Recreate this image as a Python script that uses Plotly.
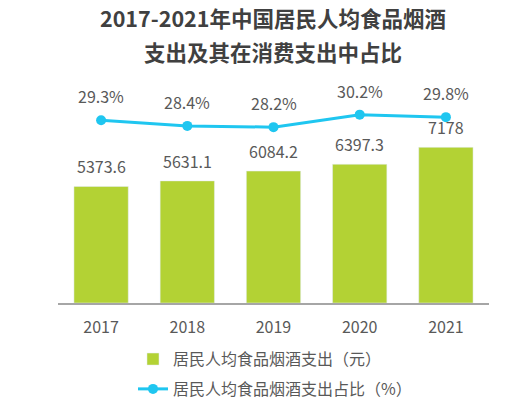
import plotly.graph_objects as go

# datos
years = ['2017', '2018', '2019', '2020', '2021']
gasto = [5373.6, 5631.1, 6084.2, 6397.3, 7178]
gasto_txt = ['5373.6', '5631.1', '6084.2', '6397.3', '7178']
ratio = [29.3, 28.4, 28.2, 30.2, 29.8]
ratio_txt = ['29.3%', '28.4%', '28.2%', '30.2%', '29.8%']
titulo = ['2017-2021年中国居民人均食品烟酒', '支出及其在消费支出中占比']

FONT = 'Noto Sans CJK SC'
GRIS = '#595959'
VERDE = '#b3d234'
CIAN = '#1fc6f0'

fig = go.Figure()

fig.add_trace(go.Bar(
    x=years, y=gasto,
    name='居民人均食品烟酒支出（元）',
    marker=dict(color=VERDE),
    width=0.63,
    legend='legend',
))

fig.add_trace(go.Scatter(
    x=years, y=ratio,
    name='居民人均食品烟酒支出占比（%）',
    mode='lines+markers',
    line=dict(color=CIAN, width=3),
    marker=dict(color=CIAN, size=10),
    yaxis='y2',
    legend='legend2',
))

# etiquetas (en eje de categorias se usa el indice)
for i, (y, t) in enumerate(zip(gasto, gasto_txt)):
    fig.add_annotation(x=i, y=y, text=t, showarrow=False, yshift=20,
                       font=dict(size=16, color=GRIS, family=FONT))
for i, (y, t) in enumerate(zip(ratio, ratio_txt)):
    fig.add_annotation(x=i, y=y, yref='y2', text=t, showarrow=False, yshift=24,
                       font=dict(size=16, color=GRIS, family=FONT))

# titulo en dos lineas
for t, yy in zip(titulo, [1.227, 1.08]):
    fig.add_annotation(x=0.499, y=yy, xref='paper', yref='paper', text='<b>' + t + '</b>',
                       showarrow=False, xanchor='center', yanchor='middle',
                       font=dict(size=21.5, color='#404040', family=FONT))

leg_font = dict(size=16, color=GRIS, family=FONT)

fig.update_layout(
    width=519, height=410,
    margin=dict(l=50, r=38, t=62, b=114.5),
    paper_bgcolor='white', plot_bgcolor='white',
    font=dict(family=FONT, color=GRIS, size=16),
    xaxis=dict(type='category', range=[-0.5, 4.5], showline=True,
               linecolor='#a6a6a6', linewidth=1.5,
               ticks='', ticklabelstandoff=9, tickfont=dict(size=16, color=GRIS)),
    yaxis=dict(range=[0, 10745], visible=False, showgrid=False),
    yaxis2=dict(range=[0, 37.36], overlaying='y', side='right',
                visible=False, showgrid=False),
    showlegend=True,
    legend=dict(orientation='v', x=0.174, xanchor='left', y=-0.241, yanchor='middle',
                font=leg_font, bgcolor='rgba(0,0,0,0)'),
    legend2=dict(orientation='v', x=0.174, xanchor='left', y=-0.369, yanchor='middle',
                 font=leg_font, bgcolor='rgba(0,0,0,0)'),
    bargap=0.37,
)

fig.write_html('out.html')
